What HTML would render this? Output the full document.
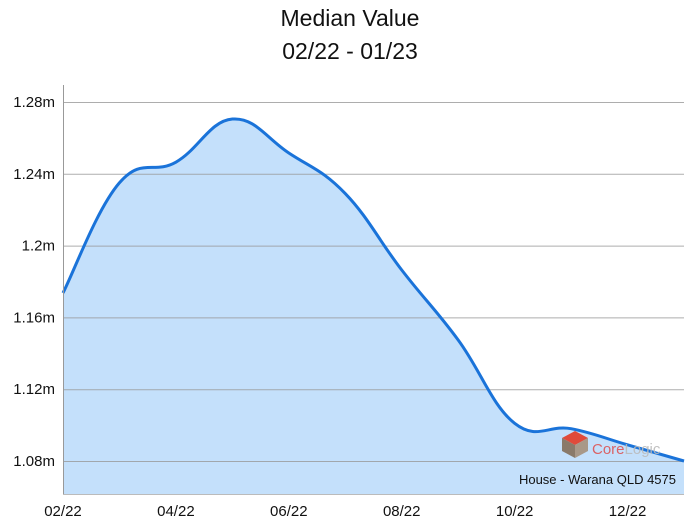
<!DOCTYPE html>
<html><head><meta charset="utf-8"><style>
body{margin:0;background:#fff;width:700px;height:521px;overflow:hidden;font-family:"Liberation Sans",sans-serif}
</style></head><body>
<svg id="chart" width="700" height="521" xmlns="http://www.w3.org/2000/svg">
<text x="350" y="26" text-anchor="middle" font-size="23" fill="#111">Median Value</text>
<text x="350" y="59" text-anchor="middle" font-size="23" fill="#111">02/22 - 01/23</text>
<path id="area" fill="#c4e0fb"></path>
<g id="gridtop"></g>
<path id="line" fill="none" stroke="#1a73d9" stroke-width="3"></path>
<line x1="63.5" y1="85" x2="63.5" y2="494" stroke="#999" stroke-width="1"/>
<line x1="63" y1="494.5" x2="684" y2="494.5" stroke="#bbb" stroke-width="1"/>
<g>
<polygon points="575,431 588,438 575,445 562,438" fill="#e04a3a"/>
<polygon points="562,438 575,445 575,458 562,451" fill="#8a7a6a"/>
<polygon points="575,445 588,438 588,451 575,458" fill="#a89888"/>
<text x="592" y="454" font-size="15" fill="#d55" opacity="0.9">Core<tspan fill="#bbb">Logic</tspan></text>
</g>
<text x="676" y="484" text-anchor="end" font-size="13" fill="#111">House - Warana QLD 4575</text>
<g id="xlabels"></g><g id="ylabels"></g>
</svg>
<script>
const categories=["02/22","03/22","04/22","05/22","06/22","07/22","08/22","09/22","10/22","11/22","12/22","01/23"];
const values=[1.1736,1.235,1.2465,1.2705,1.2516,1.229,1.1864,1.1474,1.101,1.098,1.089,1.080];
const yTicks=[1.08,1.12,1.16,1.2,1.24,1.28];
const yTickLabels=["1.08m","1.12m","1.16m","1.2m","1.24m","1.28m"];
const xTickLabels=["02/22","04/22","06/22","08/22","10/22","12/22"];
const NS="http://www.w3.org/2000/svg";
const x0=63,x1=684,yBase=494;
const xs=i=>x0+i*(x1-x0)/(categories.length-1);
const ys=v=>102+(1.28-v)/0.04*71.8;
const grid=document.getElementById('gridtop');
yTicks.forEach((t,i)=>{
 const l=document.createElementNS(NS,'line');
 
 
 l.setAttribute('x1',x0);l.setAttribute('x2',x1);
 l.setAttribute('y1',ys(t)+0.5);l.setAttribute('y2',ys(t)+0.5);
 l.setAttribute('stroke','#999');l.setAttribute('stroke-width','1');l.setAttribute('opacity','0.8');
 grid.appendChild(l);
 const tx=document.createElementNS(NS,'text');
 
 
 tx.setAttribute('x',55);tx.setAttribute('y',ys(t)+5);
 tx.setAttribute('text-anchor','end');tx.setAttribute('font-size','15');tx.setAttribute('fill','#111');
 tx.textContent=yTickLabels[i];
 document.getElementById('ylabels').appendChild(tx);
});
xTickLabels.forEach(lb=>{
 const i=categories.indexOf(lb);
 const tx=document.createElementNS(NS,'text');
 
 
 tx.setAttribute('x',xs(i));tx.setAttribute('y',516);
 tx.setAttribute('text-anchor','middle');tx.setAttribute('font-size','15');tx.setAttribute('fill','#111');
 tx.textContent=lb;
 document.getElementById('xlabels').appendChild(tx);
});
const P=values.map((v,i)=>[xs(i),ys(v)]);
const n=P.length;
let p=`M${P[0][0]},${P[0][1]}`;
for(let i=0;i<n-1;i++){
 const a=P[Math.max(i-1,0)],b=P[i],c=P[i+1],e=P[Math.min(i+2,n-1)];
 const t=0.4;
 p+=` C${b[0]+(c[0]-a[0])*t/2},${b[1]+(c[1]-a[1])*t/2} ${c[0]-(e[0]-b[0])*t/2},${c[1]-(e[1]-b[1])*t/2} ${c[0]},${c[1]}`;
}
document.getElementById('line').setAttribute('d',p);
document.getElementById('area').setAttribute('d',p+` L${x1},${yBase} L${x0},${yBase} Z`);
</script>
</body></html>
